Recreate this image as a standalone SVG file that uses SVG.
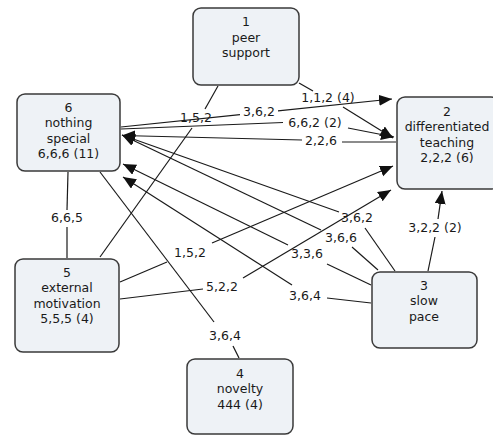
<svg xmlns="http://www.w3.org/2000/svg" width="493" height="435" viewBox="0 0 493 435">
<defs>
<style>
.node rect { fill:#eef2f6; stroke:#3a3a3a; stroke-width:1.5; }
text { font-family:"DejaVu Sans", Verdana, sans-serif; font-size:12.5px; fill:#1a1a1a; text-anchor:middle; }
.edge path { stroke:#1a1a1a; stroke-width:1.2; fill:none; }
.edge path.arr { marker-end:url(#ah); }
</style>
<marker id="ah" markerWidth="14" markerHeight="12" refX="13" refY="5.5" orient="auto" markerUnits="userSpaceOnUse">
<path d="M0,0 L13,5.5 L0,11 z" fill="#111"/>
</marker>
</defs>
<rect width="493" height="435" fill="#ffffff"/>

<g id="connectors" class="edge">
<g id="e-1-5"><path d="M218,86 L205,109"/><path d="M192,128 L100,257"/><text x="196" y="121.5">1,5,2</text></g>
<g id="e-6-2a"><path d="M121,127 L240,114.7"/><path class="arr" d="M278,110.8 L392,99"/><text x="259" y="115.5">3,6,2</text></g>
<g id="e-1-2"><path d="M299,83 L313,91"/><path class="arr" d="M343,107 L393,138"/><text x="328" y="101.5">1,1,2 (4)</text></g>
<g id="e-6-2b"><path d="M121,129 L283,122.5"/><path class="arr" d="M348,128 L394,137"/><text x="315" y="126.5">6,6,2 (2)</text></g>
<g id="e-2-6"><path d="M396,142 L342,142"/><path class="arr" d="M302,140 L122,135.5"/><text x="321" y="144.5">2,2,6</text></g>
<g id="e-3-6a"><path d="M395,271 L365,228"/><path class="arr" d="M339,212 L122,135"/><text x="357" y="221.5">3,6,2</text></g>
<g id="e-3-6b"><path d="M378,270 L352,247"/><path class="arr" d="M321,230 L122,135"/><text x="341" y="241.5">3,6,6</text></g>
<g id="e-3-6c"><path d="M371,285 L327,264"/><path class="arr" d="M288,245 L123,164"/><text x="307" y="257.5">3,3,6</text></g>
<g id="e-3-6d"><path d="M371,303 L327,298"/><path class="arr" d="M292,285 L123,177"/><text x="305" y="299.5">3,6,4</text></g>
<g id="e-3-2"><path d="M428,271 L435,237"/><path class="arr" d="M438,219 L442,191"/><text x="435" y="231.5">3,2,2 (2)</text></g>
<g id="e-5-2a"><path d="M120,282 L167,262"/><path class="arr" d="M212,243 L393,166"/><text x="190" y="256.5">1,5,2</text></g>
<g id="e-5-2b"><path d="M120,299 L203,289"/><path class="arr" d="M243,278 L391,190"/><text x="222" y="290.5">5,2,2</text></g>
<g id="e-6-5"><path d="M68,172 L67,210"/><path d="M67,227 L67,258"/><text x="67" y="221.5">6,6,5</text></g>
<g id="e-6-4"><path d="M100,172 L214,322"/><path d="M233,346 L239,358"/><text x="225" y="339.5">3,6,4</text></g>
</g>

<g id="node1" class="node"><rect x="193" y="8" width="106" height="77" rx="8"/>
<text x="246" y="26">1</text><text x="246" y="41.5">peer</text><text x="246" y="57">support</text></g>
<g id="node2" class="node"><rect x="397" y="97" width="102" height="92" rx="8"/>
<text x="447" y="115.5">2</text><text x="447" y="131">differentiated</text><text x="447" y="146.5">teaching</text><text x="447" y="162">2,2,2 (6)</text></g>
<g id="node3" class="node"><rect x="372" y="272" width="105" height="76" rx="8"/>
<text x="424" y="289.5">3</text><text x="424" y="305">slow</text><text x="424" y="320.5">pace</text></g>
<g id="node4" class="node"><rect x="187" y="359" width="106" height="75" rx="8"/>
<text x="240" y="377.5">4</text><text x="240" y="393">novelty</text><text x="240" y="408.5">444 (4)</text></g>
<g id="node5" class="node"><rect x="15" y="259" width="104" height="93" rx="8"/>
<text x="67" y="276.5">5</text><text x="67" y="292">external</text><text x="67" y="307.5">motivation</text><text x="67" y="323">5,5,5 (4)</text></g>
<g id="node6" class="node"><rect x="17" y="94" width="103" height="77" rx="8"/>
<text x="68.5" y="111.5">6</text><text x="68.5" y="127">nothing</text><text x="68.5" y="142.5">special</text><text x="68.5" y="158">6,6,6 (11)</text></g>
</svg>
